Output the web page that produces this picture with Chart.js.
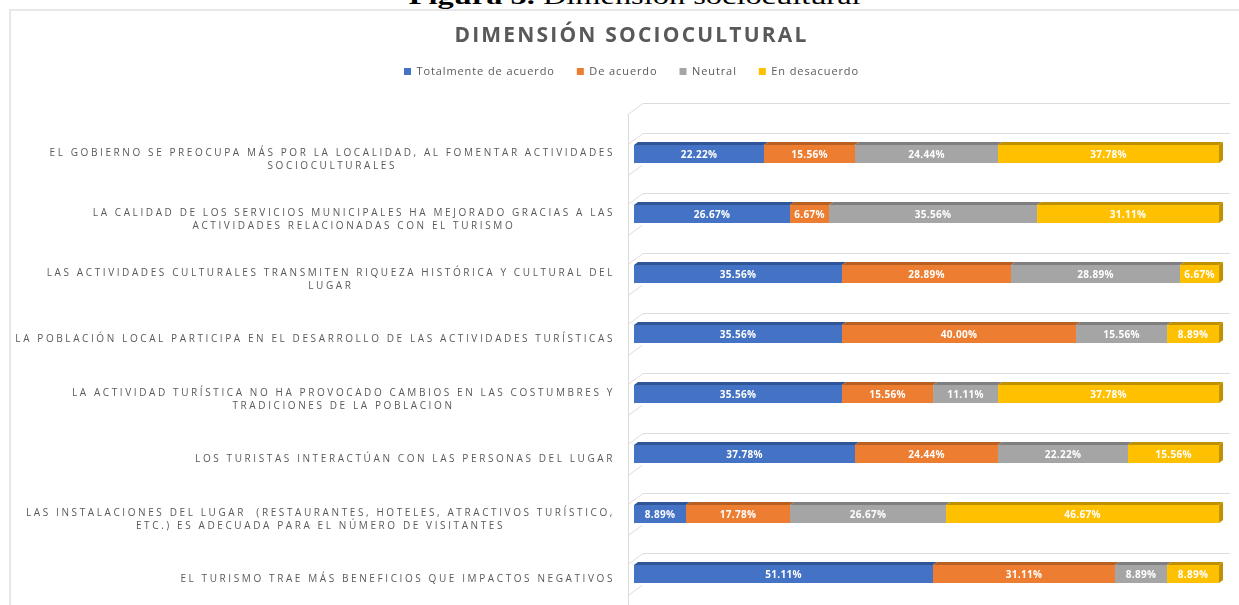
<!DOCTYPE html>
<html>
<head>
<meta charset="utf-8">
<script src="https://cdn.jsdelivr.net/npm/chart.js@4.4.1/dist/chart.umd.min.js"></script>
<style>
  html, body { margin: 0; padding: 0; background: #fff; overflow: hidden; }
  #page { position: relative; width: 1239px; height: 605px; overflow: hidden; }
  #caption {
    position: absolute; left: 15px; top: -16px; width: 1239px;
    text-align: center; white-space: nowrap;
    font-family: "Liberation Serif", serif; font-size: 24px; line-height: 24px; color: #000;
    transform: scaleX(1.35); transform-origin: 619px 0;
  }
  #frame {
    position: absolute; left: 9px; top: 9px; width: 1300px; height: 700px;
    border-left: 2px solid #e8e8e8; border-top: 2px solid #e8e8e8;
  }
  #wrap { position: absolute; left: 0; top: 0; width: 1239px; height: 605px; }
</style>
</head>
<body>
<div id="page">
  <div id="caption"><b>Figura 5.</b> Dimensión sociocultural</div>
  <div id="frame"></div>
  <div id="wrap"><canvas id="chart"></canvas></div>
</div>
<script>
const chartTitle = "DIMENSIÓN SOCIOCULTURAL"

const categories = [
  ["EL GOBIERNO SE PREOCUPA MÁS POR LA LOCALIDAD, AL FOMENTAR ACTIVIDADES", "SOCIOCULTURALES"],
  ["LA CALIDAD DE LOS SERVICIOS MUNICIPALES HA MEJORADO GRACIAS A LAS", "ACTIVIDADES RELACIONADAS CON EL TURISMO"],
  ["LAS ACTIVIDADES CULTURALES TRANSMITEN RIQUEZA HISTÓRICA Y CULTURAL DEL", "LUGAR"],
  ["LA POBLACIÓN LOCAL PARTICIPA EN EL DESARROLLO DE LAS ACTIVIDADES TURÍSTICAS"],
  ["LA ACTIVIDAD TURÍSTICA NO HA PROVOCADO CAMBIOS EN LAS COSTUMBRES Y", "TRADICIONES DE LA POBLACION"],
  ["LOS TURISTAS INTERACTÚAN CON LAS PERSONAS DEL LUGAR"],
  ["LAS INSTALACIONES DEL LUGAR  (RESTAURANTES, HOTELES, ATRACTIVOS TURÍSTICO,", "ETC.) ES ADECUADA PARA EL NÚMERO DE VISITANTES"],
  ["EL TURISMO TRAE MÁS BENEFICIOS QUE IMPACTOS NEGATIVOS"]
]

const seriesNames = ["Totalmente de acuerdo", "De acuerdo", "Neutral", "En desacuerdo"]
const totalmenteDeAcuerdo = [22.22, 26.67, 35.56, 35.56, 35.56, 37.78, 8.89, 51.11]
const deAcuerdo = [15.56, 6.67, 28.89, 40.00, 15.56, 24.44, 17.78, 31.11]
const neutral = [24.44, 35.56, 28.89, 15.56, 11.11, 22.22, 26.67, 8.89]
const enDesacuerdo = [37.78, 31.11, 6.67, 8.89, 37.78, 15.56, 46.67, 8.89]

const frontColors = ["#4472C4", "#ED7D31", "#A5A5A5", "#FFC000"]
const topColors = ["#2F5597", "#B85F22", "#7F7F7F", "#BF9000"]

const seriesData = [totalmenteDeAcuerdo, deAcuerdo, neutral, enDesacuerdo]

// legend text is a bit spaced out in the original
const spacing = {
  id: "spacing",
  beforeLayout(chart) { chart.ctx.letterSpacing = "0.9px" },
  beforeDraw(chart) { chart.ctx.letterSpacing = "0.9px" }
}

// fake 3D look: walls, bar tops/ends, value labels, category labels, title
const bar3d = {
  id: "bar3d",
  beforeDatasetsDraw(chart) {
    const { ctx, chartArea } = chart
    const ys = chart.scales.y
    const band = ys.getPixelForValue(1) - ys.getPixelForValue(0)
    const wallX = chartArea.left - 6
    const inX = chartArea.left + 9
    const endX = chartArea.right + 11
    ctx.save()
    ctx.strokeStyle = "#dcdcdc"
    ctx.lineWidth = 1
    const lines = [ys.getPixelForValue(0) - band * 0.85]
    categories.forEach((c, i) => lines.push(ys.getPixelForValue(i) - band * 0.35))
    ctx.beginPath()
    lines.forEach(y => {
      ctx.moveTo(endX, y + 0.5)
      ctx.lineTo(inX, y + 0.5)
      ctx.lineTo(wallX, y + 11.5)
    })
    categories.forEach((c, i) => {
      const y = ys.getPixelForValue(i) + 11
      ctx.moveTo(inX - 1, y + 0.5)
      ctx.lineTo(wallX, y + 10.5)
    })
    ctx.moveTo(wallX + 0.5, lines[0] + 11)
    ctx.lineTo(wallX + 0.5, chart.height)
    ctx.stroke()
    ctx.restore()
  },
  afterDatasetsDraw(chart) {
    const { ctx } = chart
    const dx = 4, dy = 3
    const last = chart.data.datasets.length - 1
    ctx.save()
    chart.data.datasets.forEach((ds, d) => {
      const meta = chart.getDatasetMeta(d)
      meta.data.forEach((el, i) => {
        const { x, y, base, height } = el.getProps(["x", "y", "base", "height"], true)
        const top = y - height / 2, bottom = y + height / 2
        ctx.fillStyle = topColors[d]
        ctx.beginPath()
        ctx.moveTo(base, top)
        ctx.lineTo(base + dx, top - dy)
        ctx.lineTo(x + dx, top - dy)
        ctx.lineTo(x, top)
        ctx.closePath()
        ctx.fill()
        if (d === last) {
          ctx.beginPath()
          ctx.moveTo(x, top)
          ctx.lineTo(x + dx, top - dy)
          ctx.lineTo(x + dx, bottom - dy)
          ctx.lineTo(x, bottom)
          ctx.closePath()
          ctx.fill()
        }
        ctx.fillStyle = "#ffffff"
        ctx.font = "bold 10px 'Open Sans'"
        ctx.letterSpacing = "0.3px"
        ctx.textAlign = "center"
        ctx.textBaseline = "middle"
        ctx.fillText(ds.data[i].toFixed(2) + "%", (base + x) / 2, y + 1)
      })
    })
    ctx.restore()
  },
  afterDraw(chart) {
    const { ctx, chartArea, legend } = chart
    const ys = chart.scales.y
    ctx.save()
    // category labels: block right-aligned, lines centered inside the block
    ctx.fillStyle = "#595959"
    ctx.font = "10px 'Open Sans'"
    ctx.letterSpacing = "2.6px"
    ctx.textAlign = "center"
    ctx.textBaseline = "middle"
    const rightX = chartArea.left - 19
    const lineH = 13
    chart.data.labels.forEach((lab, i) => {
      const lines = Array.isArray(lab) ? lab : [lab]
      const w = Math.max(...lines.map(t => ctx.measureText(t).width))
      const cy = ys.getPixelForValue(i) + 5.5 - (lines.length - 1) * lineH / 2
      lines.forEach((t, k) => ctx.fillText(t, rightX - w / 2, cy + k * lineH))
    })
    // title
    ctx.font = "bold 21px 'Open Sans'"
    ctx.letterSpacing = "2.2px"
    ctx.fillText(chartTitle, (legend.left + legend.right) / 2, legend.top - 8)
    ctx.restore()
  }
}

const padTop = 44
const plotTop = 124

new Chart(document.getElementById("chart"), {
  type: "bar",
  data: {
    labels: categories,
    datasets: seriesNames.map((name, i) => ({
      label: name,
      data: seriesData[i],
      backgroundColor: frontColors[i],
      borderWidth: 0,
      barPercentage: 0.3,
      categoryPercentage: 1
    }))
  },
  options: {
    indexAxis: "y",
    responsive: true,
    maintainAspectRatio: false,
    animation: false,
    layout: { padding: { top: padTop, left: 44, right: 20, bottom: 1 } },
    scales: {
      x: {
        stacked: true, min: 0, max: 100, position: "top",
        grid: { display: false }, border: { display: false }, ticks: { display: false },
        afterFit: s => { s.height = plotTop - padTop - s.chart.legend.height }
      },
      y: {
        stacked: true,
        grid: { display: false }, border: { display: false }, ticks: { display: false },
        afterFit: s => { s.width = 590 }
      }
    },
    plugins: {
      legend: {
        position: "top",
        labels: {
          boxWidth: 7, boxHeight: 7, padding: 22, color: "#595959",
          font: { family: "'Open Sans'", size: 11 }
        }
      },
      tooltip: { enabled: false }
    }
  },
  plugins: [spacing, bar3d]
})
</script>
</body>
</html>
